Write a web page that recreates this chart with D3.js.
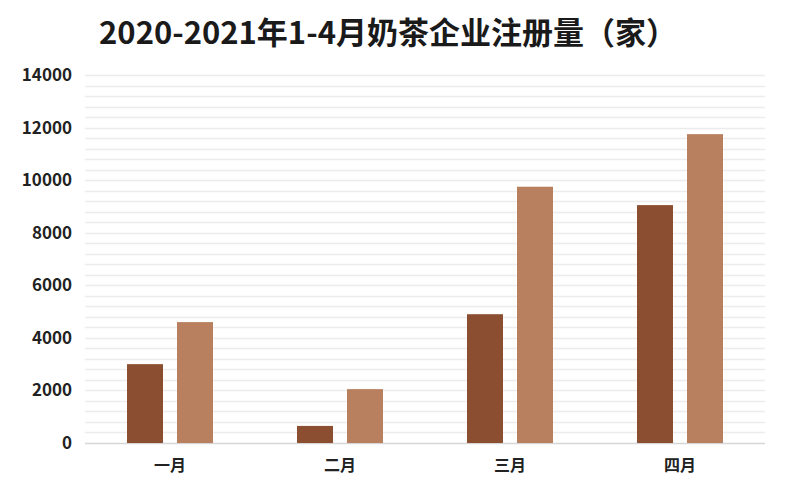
<!DOCTYPE html>
<html><head><meta charset="utf-8">
<script src="https://cdn.jsdelivr.net/npm/d3@7"></script>
<style>body{margin:0;background:#fff}svg{display:block}text{font-family:"Noto Sans CJK SC","Noto Sans",sans-serif}</style>
</head><body><svg id="c" width="787" height="487"></svg>
<script>
const categories = ["一月","二月","三月","四月"];
const series = ["2020","2021"];
const values2020 = [3000, 650, 4900, 9050];
const values2021 = [4600, 2050, 9750, 11750];
const yTicks = [0,2000,4000,6000,8000,10000,12000,14000];
const title = "2020-2021年1-4月奶茶企业注册量（家）";
const colors = ["#8c4e30", "#b8805f"];

const svg = d3.select("#c");
const m = {l:85, r:22, t:75, b:44};
const W = 787, H = 487;
const x = d3.scaleBand().domain(categories).range([m.l, W - m.r]);
const xs = d3.scaleBand().domain(series).range([-43, 43]).paddingInner(0.28);
const y = d3.scaleLinear().domain([0,14000]).range([H - m.b, m.t]);

svg.append("text").attr("x", 388).attr("y", 44).attr("text-anchor","middle")
  .attr("font-size", 31).attr("font-weight", 700).attr("fill","#1a1a1a").text(title);

// grid
const gridVals = d3.range(400, 14001, 400);
svg.append("g").selectAll("line").data(gridVals).join("line")
  .attr("x1", m.l).attr("x2", W - m.r)
  .attr("y1", d => Math.round(y(d)) + 0.5).attr("y2", d => Math.round(y(d)) + 0.5)
  .attr("stroke", "#ececec").attr("stroke-width", 1.5);
svg.append("line").attr("x1", m.l).attr("x2", W - m.r)
  .attr("y1", y(0)+0.5).attr("y2", y(0)+0.5).attr("stroke","#d6d6d6").attr("stroke-width",1.5);

// y axis
const ya = d3.axisLeft(y).tickValues(yTicks).tickFormat(d3.format("d")).tickSize(0).tickPadding(0);
const yg = svg.append("g").attr("transform", `translate(72,0)`).call(ya);
yg.select(".domain").remove();
yg.selectAll("text").attr("font-size", 17).attr("font-weight", 700).attr("fill","#222")
  .attr("font-family", '"Noto Sans CJK SC","Noto Sans",sans-serif');

// x axis
const xa = d3.axisBottom(x).tickSize(0).tickPadding(0);
const xg = svg.append("g").attr("transform", `translate(0,${H - m.b + 17})`).call(xa);
xg.select(".domain").remove();
xg.selectAll("text").attr("font-size", 16).attr("font-weight", 700).attr("fill","#222")
  .attr("font-family", '"Noto Sans CJK SC","Noto Sans",sans-serif');

// bars
const data = categories.map((c,i) => ({c, vals:[values2020[i], values2021[i]]}));
const g = svg.append("g").selectAll("g").data(data).join("g")
  .attr("transform", d => `translate(${x(d.c) + x.bandwidth()/2},0)`);
g.selectAll("rect").data(d => d.vals.map((v,j) => ({s:series[j], v, j}))).join("rect")
  .attr("x", d => xs(d.s)).attr("width", xs.bandwidth())
  .attr("y", d => y(d.v)).attr("height", d => y(0) - y(d.v))
  .attr("fill", d => colors[d.j]);
</script></body></html>
